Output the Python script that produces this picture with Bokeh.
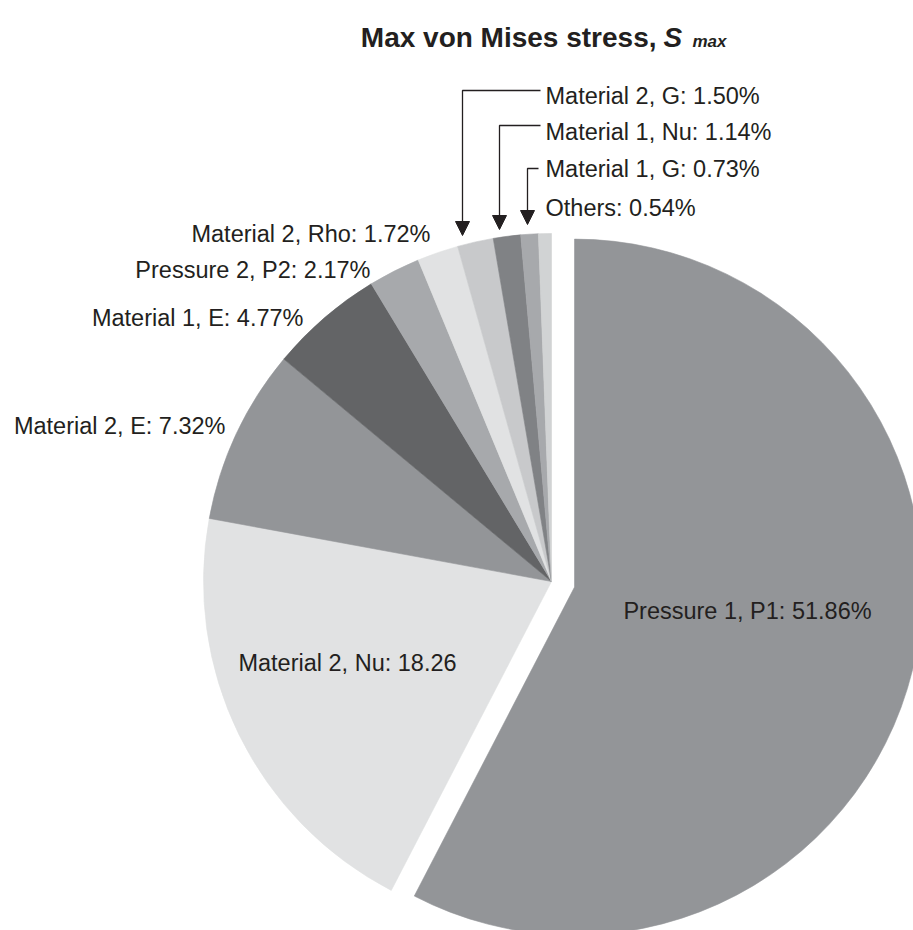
import numpy as np
from bokeh.plotting import figure
from bokeh.models import Range1d, ColumnDataSource, Arrow, NormalHead
from bokeh.embed import file_html
from bokeh.resources import INLINE
from bokeh.core.properties import value

# ---- data ----
names = ["Pressure 1, P1", "Material 2, Nu", "Material 2, E", "Material 1, E",
         "Pressure 2, P2", "Material 2, Rho", "Material 2, G", "Material 1, Nu",
         "Material 1, G", "Others"]
shares = [51.86, 18.26, 7.32, 4.77, 2.17, 1.72, 1.50, 1.14, 0.73, 0.54]
labels = ["Pressure 1, P1: 51.86%", "Material 2, Nu: 18.26", "Material 2, E: 7.32%",
          "Material 1, E: 4.77%", "Pressure 2, P2: 2.17%", "Material 2, Rho: 1.72%",
          "Material 2, G: 1.50%", "Material 1, Nu: 1.14%", "Material 1, G: 0.73%",
          "Others: 0.54%"]
colors = ["#939598", "#e1e2e3", "#939598", "#636466", "#a7a9ac",
          "#e1e2e3", "#c8c9cb", "#808285", "#a7a9ac", "#d1d3d4"]
title_main = "Max von Mises stress,"
title_sym = "S"
title_sub = "max"

# ---- layout ----
W, H = 913, 930
def px(x):
    return x
def py(y):
    return H - y

TXT = "#231f20"
FONT = value("Liberation Sans")

p = figure(width=W, height=H, output_backend="svg", toolbar_location=None,
           x_range=Range1d(0, W), y_range=Range1d(0, H), min_border=0)
p.axis.visible = False
p.grid.visible = False
p.outline_line_color = None
p.background_fill_color = "white"
p.border_fill_color = "white"

frac = np.array(shares) / np.sum(shares)
cum = np.concatenate([[0.0], np.cumsum(frac)]) * 2 * np.pi
mid = (cum[:-1] + cum[1:]) / 2
explode = np.zeros(len(shares))
explode[0] = 23.7
cx, cy = px(551), py(581)
R = 348
src = ColumnDataSource(dict(
    x=cx + explode * np.sin(mid),
    y=cy + explode * np.cos(mid),
    start=np.pi / 2 - cum[:-1],
    end=np.pi / 2 - cum[1:],
    color=colors,
))
p.wedge(x="x", y="y", radius=R, start_angle="start", end_angle="end",
        direction="clock", fill_color="color", line_color="color",
        line_width=0.6, source=src)

# ---- labels ----
lab_pos = [  # (page x, page y, align)
    (747, 610, "center"),
    (347, 662, "center"),
    (225, 425, "right"),
    (303, 317, "right"),
    (370, 269, "right"),
    (430, 233, "right"),
    (545, 95, "left"),
    (545, 131, "left"),
    (545, 168, "left"),
    (545, 207, "left"),
]
for t, (lx, ly, al) in zip(labels, lab_pos):
    p.text(x=[px(lx)], y=[py(ly)], text=[t], text_align=al, text_baseline="middle",
           text_font=FONT, text_font_size=value("23.5px"), text_color=TXT)

# ---- leaders ----
leaders = [  # (arrow x, line y, text-side x, tip y)
    (462, 90, 540, 235),
    (499, 125, 540, 229),
    (527, 168, 538, 224),
]
for ax, ly, tx, tip in leaders:
    p.line(x=[px(tx), px(ax), px(ax)], y=[py(ly), py(ly), py(tip - 10)],
           line_color=TXT, line_width=1.3)
    p.add_layout(Arrow(end=NormalHead(size=14, fill_color=TXT, line_color=TXT, line_width=1),
                       x_start=px(ax), y_start=py(tip - 14), x_end=px(ax), y_end=py(tip),
                       line_color=TXT, line_width=1.3))

# ---- title ----
p.text(x=[px(656)], y=[py(37)], text=[title_main], text_align="right",
       text_baseline="alphabetic", text_font=FONT, text_font_style="bold",
       text_font_size=value("28px"), text_color=TXT)
p.text(x=[px(663)], y=[py(37)], text=[title_sym], text_align="left",
       text_baseline="alphabetic", text_font=FONT, text_font_style="bold italic",
       text_font_size=value("28px"), text_color=TXT)
p.text(x=[px(692)], y=[py(41)], text=[title_sub], text_align="left",
       text_baseline="alphabetic", text_font=FONT, text_font_style="bold italic",
       text_font_size=value("17px"), text_color=TXT)

open("out.html", "w").write(file_html(p, INLINE))
